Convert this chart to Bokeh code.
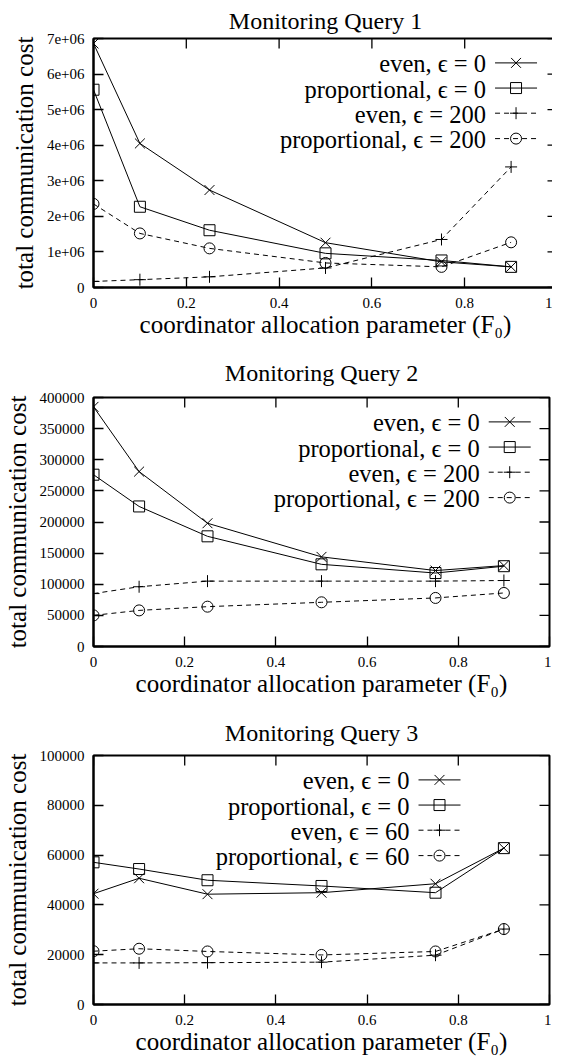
from bokeh.plotting import figure
from bokeh.models import FixedTicker, Range1d
from bokeh.layouts import column
from bokeh.embed import file_html
from bokeh.resources import INLINE
from bokeh.core.properties import value

# ---------------- data ----------------
F0 = [0, 0.1, 0.25, 0.5, 0.75, 0.9]
x_ticks = [0, 0.2, 0.4, 0.6, 0.8, 1.0]
x_tick_labels = ["0", "0.2", "0.4", "0.6", "0.8", "1"]

titles = ["Monitoring Query 1", "Monitoring Query 2", "Monitoring Query 3"]
x_label = "coordinator allocation parameter (F\u2080)"
y_label = "total communication cost"

# Query 1
q1_labels = ["even, \u03f5 = 0", "proportional, \u03f5 = 0", "even, \u03f5 = 200", "proportional, \u03f5 = 200"]
q1_even_e0 = [6.86e6, 4.05e6, 2.74e6, 1.26e6, 0.72e6, 0.58e6]
q1_prop_e0 = [5.56e6, 2.27e6, 1.61e6, 0.96e6, 0.76e6, 0.58e6]
q1_even_e200 = [0.17e6, 0.22e6, 0.30e6, 0.55e6, 1.35e6, 3.39e6]
q1_prop_e200 = [2.35e6, 1.52e6, 1.10e6, 0.69e6, 0.58e6, 1.27e6]
q1_y_ticks = [0, 1e6, 2e6, 3e6, 4e6, 5e6, 6e6, 7e6]
q1_y_tick_labels = ["0", "1e+06", "2e+06", "3e+06", "4e+06", "5e+06", "6e+06", "7e+06"]

# Query 2
q2_labels = ["even, \u03f5 = 0", "proportional, \u03f5 = 0", "even, \u03f5 = 200", "proportional, \u03f5 = 200"]
q2_even_e0 = [385e3, 281e3, 198e3, 144e3, 122e3, 130e3]
q2_prop_e0 = [276e3, 225e3, 177e3, 132e3, 118e3, 129e3]
q2_even_e200 = [85e3, 96e3, 105e3, 105e3, 105e3, 106e3]
q2_prop_e200 = [50e3, 58e3, 64e3, 71e3, 78e3, 86e3]
q2_y_ticks = [0, 50000, 100000, 150000, 200000, 250000, 300000, 350000, 400000]
q2_y_tick_labels = ["0", "50000", "100000", "150000", "200000", "250000", "300000", "350000", "400000"]

# Query 3
q3_labels = ["even, \u03f5 = 0", "proportional, \u03f5 = 0", "even, \u03f5 = 60", "proportional, \u03f5 = 60"]
q3_even_e0 = [44.5e3, 50.7e3, 44.3e3, 44.9e3, 48.5e3, 62.8e3]
q3_prop_e0 = [57.1e3, 54.4e3, 49.9e3, 47.6e3, 44.9e3, 62.8e3]
q3_even_e60 = [16.7e3, 16.7e3, 16.8e3, 17.0e3, 19.8e3, 30.3e3]
q3_prop_e60 = [21.4e3, 22.4e3, 21.3e3, 19.9e3, 21.3e3, 30.3e3]
q3_y_ticks = [0, 20000, 40000, 60000, 80000, 100000]
q3_y_tick_labels = ["0", "20000", "40000", "60000", "80000", "100000"]

# ---------------- style ----------------
FONT = "Liberation Serif"
W = 548
RIGHT = 2
MARKERS = ["x", "square", "cross", "circle"]
MARKER_SIZES = [14, 11, 12, 11]
DASHED = [False, False, True, True]
DASH = "5 4"
TICK_LEN = 10


def style_axis(ax, ticks, labels):
    ax.ticker = FixedTicker(ticks=ticks)
    ax.major_label_overrides = dict(zip(ticks, labels))
    ax.axis_line_width = 2
    ax.axis_line_color = "black"
    ax.major_tick_in = TICK_LEN
    ax.major_tick_out = 0
    ax.major_tick_line_width = 1.3
    ax.major_tick_line_color = "black"
    ax.minor_tick_line_color = None
    ax.major_label_text_font = FONT
    ax.major_label_text_font_size = "15px"
    ax.major_label_text_color = "black"
    ax.axis_label_text_font = FONT
    ax.axis_label_text_font_size = "25px"
    ax.axis_label_text_font_style = "normal"
    ax.axis_label_text_color = "black"


def make_panel(title, labels, series, y_ticks, y_tick_labels, legend_frac,
               left, bottom, frame_h, title_gap):
    ymax = y_ticks[-1]
    frame_w = W - left - RIGHT
    p = figure(frame_width=frame_w, frame_height=frame_h,
               x_range=Range1d(0, 1), y_range=Range1d(0, ymax),
               output_backend="svg", toolbar_location=None, title=title,
               min_border_left=left, min_border_right=RIGHT,
               min_border_top=10, min_border_bottom=bottom)
    p.title.text_font = FONT
    p.title.text_font_size = "24px"
    p.title.text_font_style = "normal"
    p.title.text_color = "black"
    p.title.align = "center"
    p.title.standoff = title_gap
    p.xgrid.visible = False
    p.ygrid.visible = False
    p.outline_line_color = "black"
    p.outline_line_width = 2
    p.background_fill_color = "white"
    p.border_fill_color = "white"

    style_axis(p.xaxis[0], x_ticks, x_tick_labels)
    style_axis(p.yaxis[0], y_ticks, y_tick_labels)
    p.xaxis[0].major_label_standoff = 10
    p.yaxis[0].major_label_standoff = 9
    p.xaxis[0].axis_label = x_label
    p.xaxis[0].axis_label_standoff = 0
    p.yaxis[0].axis_label = y_label
    p.yaxis[0].axis_label_standoff = 6

    px_x = 1.0 / frame_w
    px_y = ymax / float(frame_h)

    # mirrored tick marks on the top and right edges (gnuplot style)
    p.segment(x0=x_ticks, y0=[ymax] * len(x_ticks), x1=x_ticks,
              y1=[ymax - TICK_LEN * px_y] * len(x_ticks), line_color="black", line_width=1.3)
    p.segment(x0=[1.0] * len(y_ticks), y0=y_ticks, x1=[1.0 - TICK_LEN * px_x] * len(y_ticks),
              y1=y_ticks, line_color="black", line_width=1.3)

    for vals, mk, ms, dashed in zip(series, MARKERS, MARKER_SIZES, DASHED):
        p.line(F0, vals, line_color="black", line_width=1,
               line_dash=DASH if dashed else "solid")
        p.scatter(F0, vals, marker=mk, size=ms, line_color="black",
                  fill_color=None, line_width=1)

    # legend (text right-aligned, sample on the right, like gnuplot)
    row_fracs = [0.098, 0.199, 0.300, 0.402]
    for lab, mk, ms, dashed, rf in zip(labels, MARKERS, MARKER_SIZES, DASHED, row_fracs):
        yy = ymax * (1 - rf)
        p.text(x=[legend_frac], y=[yy - 1.0 * px_y], text=[lab], text_font=value(FONT),
               text_font_size="24.5px", text_align="right", text_baseline="middle",
               text_color="black")
        x0 = legend_frac + 9 * px_x
        x1 = x0 + 42 * px_x
        p.line([x0, x1], [yy, yy], line_color="black", line_width=1,
               line_dash=DASH if dashed else "solid")
        p.scatter([(x0 + x1) / 2], [yy], marker=mk, size=ms, line_color="black",
                  fill_color=None, line_width=1)
    return p


p1 = make_panel(titles[0], q1_labels, [q1_even_e0, q1_prop_e0, q1_even_e200, q1_prop_e200],
                q1_y_ticks, q1_y_tick_labels, 0.846, 82, 59, 249, 10)
p2 = make_panel(titles[1], q2_labels, [q2_even_e0, q2_prop_e0, q2_even_e200, q2_prop_e200],
                q2_y_ticks, q2_y_tick_labels, 0.847, 90, 61, 249, 23)
p3 = make_panel(titles[2], q3_labels, [q3_even_e0, q3_prop_e0, q3_even_e60, q3_prop_e60],
                q3_y_ticks, q3_y_tick_labels, 0.693, 90, 48, 249, 20)

layout = column(p1, p2, p3, spacing=0)
open("out.html", "w").write(file_html(layout, INLINE))
